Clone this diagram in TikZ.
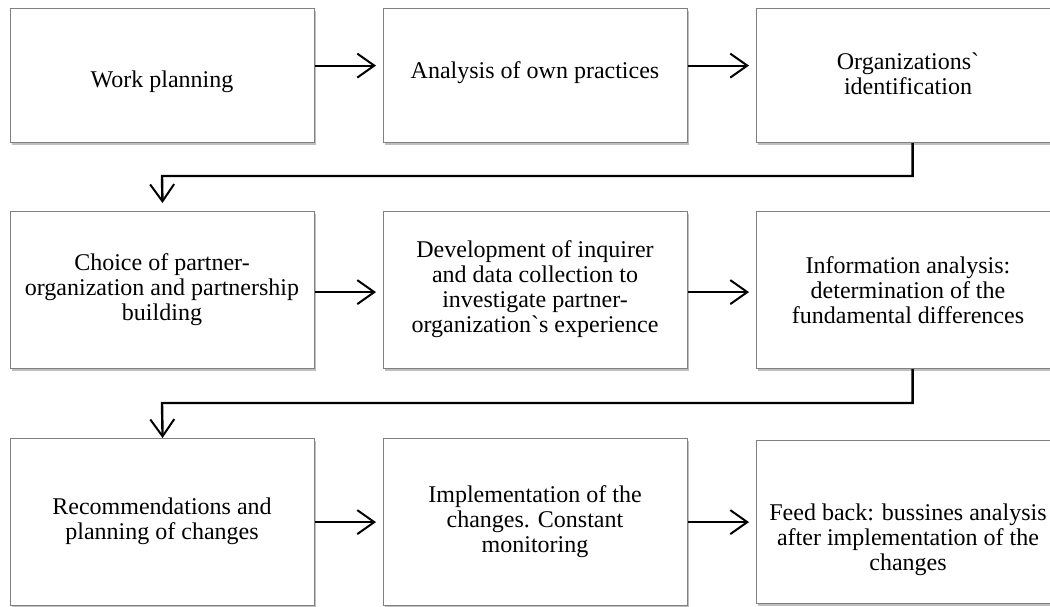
\documentclass[tikz,border=0pt]{standalone}
\usepackage{fontspec}
\setmainfont{Liberation Serif}[Ligatures=TeXOff]
\usetikzlibrary{arrows.meta,shadows}
\begin{document}
\begin{tikzpicture}[x=1pt,y=-1pt,
  stepbox/.style={draw=black!50,line width=1.2pt,fill=white,anchor=north west,minimum width=304pt,inner sep=0pt,
    drop shadow={shadow xshift=1.5pt,shadow yshift=-2pt,fill=black,opacity=0.25}},
  txt/.style={align=center,font=\fontsize{24}{25}\selectfont,inner sep=0pt},
  flow/.style={line width=2pt,-{Straight Barb[length=17pt,width=24pt]}},
  link/.style={line width=2.4pt,-{Straight Barb[length=17pt,width=24pt,line width=2pt]}}]
\useasboundingbox (0,0) rectangle (1050,606);
\clip (0,0) rectangle (1050,606);
% row 1
\node[stepbox,minimum height=134pt] (b1) at (10,8) {};
\node[stepbox,minimum height=134pt] (b2) at (383,8) {};
\node[stepbox,minimum height=134pt] (b3) at (756,8) {};
% row 2
\node[stepbox,minimum height=157pt] (b4) at (10,211) {};
\node[stepbox,minimum height=157pt] (b5) at (383,211) {};
\node[stepbox,minimum height=157pt] (b6) at (756,211) {};
% row 3
\node[stepbox,minimum height=167pt] (b7) at (10,438) {};
\node[stepbox,minimum height=167pt] (b8) at (383,438) {};
\node[stepbox,minimum height=163pt] (b9) at (756,440) {};
% texts
\node[txt] (t1) at (162,82) {Work planning};
\node[txt] (t2) at (535,73) {Analysis of own practices};
\node[txt] (t3) at (908,74) {Organizations`\\identification};
\node[txt] (t4) at (162,290) {Choice of partner-\\organization and partnership\\building};
\node[txt] (t5) at (535,289.5) {Development of inquirer\\and data collection to\\investigate partner-\\organization`s experience};
\node[txt] (t6) at (908,290) {Information analysis:\\determination of the\\fundamental differences};
\node[txt] (t7) at (162,521) {Recommendations and\\planning of changes};
\node[txt] (t8) at (535,522) {Implementation of the\\changes. Constant\\monitoring};
\node[txt] (t9) at (908,540) {Feed back: bussines analysis\\after implementation of the\\changes};
% horizontal arrows
\draw[flow,shorten >=7pt] ([yshift=10]b1.east) -- ([yshift=10]b2.west);
\draw[flow,shorten >=7pt] ([yshift=10]b2.east) -- ([yshift=10]b3.west);
\draw[flow,shorten >=7pt] ([yshift=-2]b4.east) -- ([yshift=-2]b5.west);
\draw[flow,shorten >=7pt] ([yshift=-2]b5.east) -- ([yshift=-2]b6.west);
\draw[flow,shorten >=7pt] (b7.east) -- (b8.west);
\draw[flow,shorten >=7pt] (b8.east) -- (b9.west |- b8.east);
% row links
\draw[link,shorten >=8pt] ([xshift=4]b3.south) |- (162,176) -- (b4.north);
\draw[link,shorten >=0pt] ([xshift=4]b6.south) |- (162,403) -- (b7.north);
\end{tikzpicture}
\end{document}
